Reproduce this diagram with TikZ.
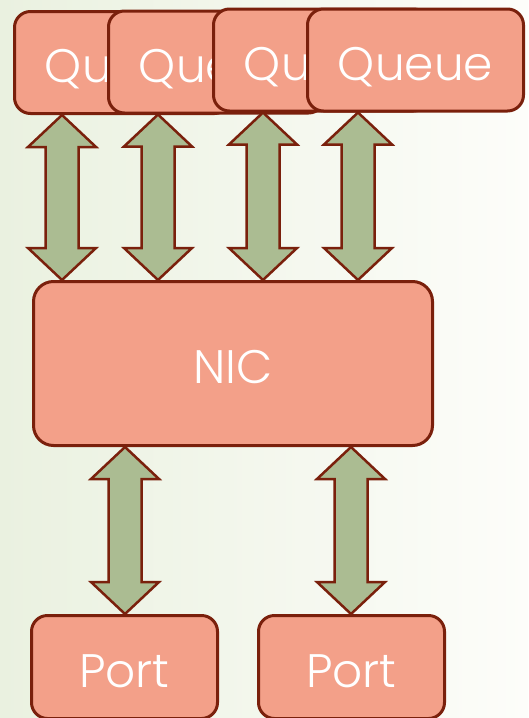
\documentclass[tikz,border=0pt]{standalone}
\usepackage{fontspec}
\setmainfont{Poppins}[UprightFont=* Light]
\usepackage{tikz}
\usetikzlibrary{calc}

\definecolor{bgleft}{RGB}{234,241,224}
\definecolor{bgmid}{RGB}{245,247,238}
\definecolor{bgright}{RGB}{253,253,250}
\definecolor{boxfill}{RGB}{243,160,137}
\definecolor{boxline}{RGB}{122,32,12}
\definecolor{arrowfill}{RGB}{171,188,146}

\tikzset{
  unit/.style={draw=boxline, fill=boxfill, line width=3pt, rounded corners=16pt,
    text=white, font=\fontsize{47}{50}\selectfont, inner sep=0pt,
    text height=40pt, text depth=0pt},
  arrowbody/.style={draw=boxline, fill=arrowfill, line width=2.5pt, line join=miter}
}

% x: position of the arrow, #2: upper node, #3: lower node
\newcommand{\linkarrow}[3]{%
  \draw[arrowbody] let \p1=(#2.south), \p2=(#3.north) in
    (#1pt,\y1) -- (#1pt+34pt,\y1-32pt) -- (#1pt+16.5pt,\y1-32pt)
    -- (#1pt+16.5pt,\y2+32pt) -- (#1pt+34pt,\y2+32pt) -- (#1pt,\y2)
    -- (#1pt-34pt,\y2+32pt) -- (#1pt-16.5pt,\y2+32pt)
    -- (#1pt-16.5pt,\y1-32pt) -- (#1pt-34pt,\y1-32pt) -- cycle;}

\begin{document}
\begin{tikzpicture}[x=1pt, y=-1pt]
  % Background
  \shade[left color=bgleft, middle color=bgmid, right color=bgright] (0,0) rectangle (528,718);
  \useasboundingbox (0,0) rectangle (528,718);

  % Queues
  \node[unit, minimum width=216, minimum height=102] (q1) at (122.5,62.5) {Queue};
  \node[unit, minimum width=216, minimum height=102] (q2) at (216.5,62) {Queue};
  \node[unit, minimum width=216, minimum height=102] (q3) at (321.5,60) {Queue};
  \node[unit, minimum width=216, minimum height=102] (q4) at (415.5,60) {Queue};

  % NIC
  \node[unit, minimum width=399, minimum height=164, rounded corners=20pt] (nic) at (233,363.5) {NIC};

  % Ports
  \node[unit, minimum width=186, minimum height=103] (port1) at (124.5,667) {Port};
  \node[unit, minimum width=186, minimum height=103] (port2) at (351.5,667) {Port};

  % Links
  \linkarrow{62}{q1}{nic}
  \linkarrow{158}{q2}{nic}
  \linkarrow{263}{q3}{nic}
  \linkarrow{358}{q4}{nic}
  \linkarrow{125}{nic}{port1}
  \linkarrow{351}{nic}{port2}
\end{tikzpicture}
\end{document}
